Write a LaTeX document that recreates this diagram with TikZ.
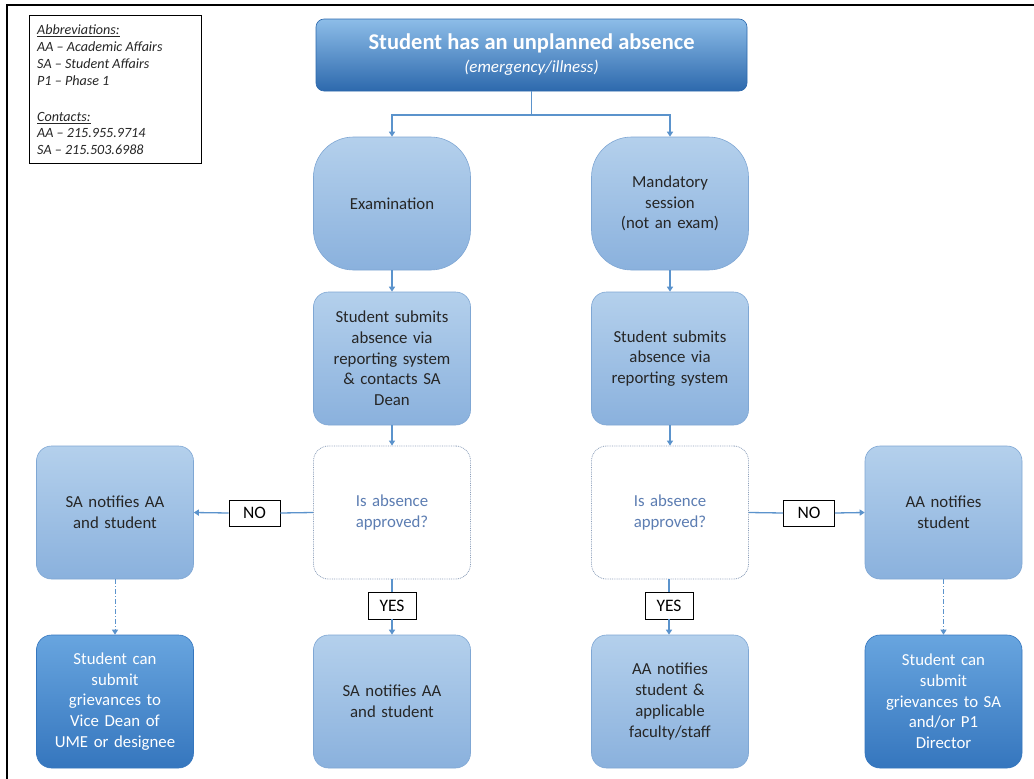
\documentclass[tikz,border=0pt]{standalone}
\usepackage{fontspec}
\setmainfont{Carlito}
\usetikzlibrary{arrows.meta,positioning}
\definecolor{ltop}{HTML}{B4D0EC}
\definecolor{lbot}{HTML}{8AB1DD}
\definecolor{ledge}{HTML}{7FA7D4}
\definecolor{dtop}{HTML}{68A5DF}
\definecolor{dbot}{HTML}{3576BE}
\definecolor{ttop}{HTML}{8DBDE8}
\definecolor{tbot}{HTML}{2D69AD}
\definecolor{arrowc}{HTML}{5B93CC}
\definecolor{decedge}{HTML}{8C9FBA}
\definecolor{dectext}{HTML}{5C7DB2}
\tikzset{
  x=1pt,y=-1pt,
  conn/.style={draw=arrowc,line width=1.3pt,-{Triangle[width=6pt,length=5pt]}},
  plain/.style={draw=arrowc,line width=1.3pt},
  basebox/.style={rectangle,minimum width=157pt,minimum height=133pt,text width=150pt,align=center,
    font=\fontsize{16.8}{20.7}\selectfont,inner sep=0pt},
  lbox/.style={basebox,rounded corners=15pt,top color=ltop,bottom color=lbot,draw=ledge,line width=0.6pt,text=black!85},
  roundbox/.style={lbox,rounded corners=40pt},
  dbox/.style={basebox,rounded corners=15pt,top color=dtop,bottom color=dbot,draw=dbot,line width=0.6pt,text=white},
  decbox/.style={basebox,rounded corners=15pt,fill=white,draw=decedge,densely dotted,line width=0.8pt,text=dectext},
  lab/.style={rectangle,draw=black,fill=white,line width=0.8pt,inner sep=0pt,font=\fontsize{17.5}{18}\selectfont},
  dashc/.style={conn,dash pattern=on 5pt off 2pt on 1pt off 2pt,line width=1pt},
}
\begin{document}
\begin{tikzpicture}
\useasboundingbox (0,0) rectangle (1034,779);
\fill[white] (0,0) rectangle (1034,779);
% frame
\draw[line width=2.5pt] (7,779) -- (7,5) -- (1034,5);
% abbreviations
\draw[line width=0.8pt] (29,15) rectangle (201,163);
\node[anchor=north west,inner sep=0pt,align=left,font=\fontsize{14.1}{16.8}\selectfont\itshape,text=black!85] (abbr) at (37,25)
{\underline{Abbreviations:}\\AA – Academic Affairs\\SA – Student Affairs\\P1 – Phase 1\\[19pt]\underline{Contacts:}\\AA – 215.955.9714\\SA – 215.503.6988};
% top box
\node[rectangle,rounded corners=8pt,top color=ttop,bottom color=tbot,draw=tbot,line width=0.6pt,minimum width=431pt,minimum height=72pt,align=center,text=white,inner sep=0pt] (top) at (531.5,55)
{{\fontsize{22.5}{26}\selectfont\bfseries Student has an unplanned absence}\\[6pt]{\fontsize{17}{20}\selectfont\itshape (emergency/illness)}};
% column nodes
\node[roundbox] (exam) at (392,203.5) {Examination};
\node[roundbox] (mand) at (670,203.5) {Mandatory\\session\\(not an exam)};
\node[lbox] (sub1) at (392,358.5) {Student submits\\absence via\\reporting system\\\& contacts SA\\Dean};
\node[lbox] (sub2) at (670,358.5) {Student submits\\absence via\\reporting system};
\node[decbox] (dec1) at (392,512.5) {Is absence\\approved?};
\node[decbox] (dec2) at (670,512.5) {Is absence\\approved?};
\node[lbox] (sanot) at (115,512.5) {SA notifies AA\\and student};
\node[lbox] (aanot) at (943.5,512.5) {AA notifies\\student};
\node[dbox] (griev1) at (115,701.5) {Student can\\submit\\grievances to\\Vice Dean of\\UME or designee};
\node[lbox] (sanot2) at (392,701.5) {SA notifies AA\\and student};
\node[lbox] (aanot2) at (670,701.5) {AA notifies\\student \&\\applicable\\faculty/staff};
\node[dbox] (griev2) at (943.5,701.5) {Student can\\submit\\grievances to SA\\and/or P1\\Director};
% labels
\node[lab,minimum width=51pt,minimum height=26pt] (no1) at (254.5,513) {NO};
\node[lab,minimum width=51pt,minimum height=26pt] (no2) at (809,513) {NO};
\node[lab,minimum width=48pt,minimum height=27pt] (yes1) at (392,605.5) {YES};
\node[lab,minimum width=48pt,minimum height=27pt] (yes2) at (669,605.5) {YES};
% connectors
\coordinate (split) at (531.5,115);
\draw[plain] (top.south) -- (split);
\draw[conn] (split) -| (exam.north);
\draw[conn] (split) -| (mand.north);
\draw[conn] (exam) -- (sub1);
\draw[conn] (mand) -- (sub2);
\draw[conn] (sub1) -- (dec1);
\draw[conn] (sub2) -- (dec2);
\draw[plain] (dec1.west) -- (no1.east);
\draw[conn] (no1.west) -- (sanot.east);
\draw[plain] (dec2.east) -- (no2.west);
\draw[conn] (no2.east) -- (aanot.west);
\draw[plain] (dec1.south) -- (yes1.north);
\draw[conn] (yes1.south) -- (sanot2.north);
\draw[plain] (dec2.south -| yes2) -- (yes2.north);
\draw[conn] (yes2.south) -- (aanot2.north -| yes2);
\draw[dashc] (sanot) -- (griev1);
\draw[dashc] (aanot) -- (griev2);
\end{tikzpicture}
\end{document}
